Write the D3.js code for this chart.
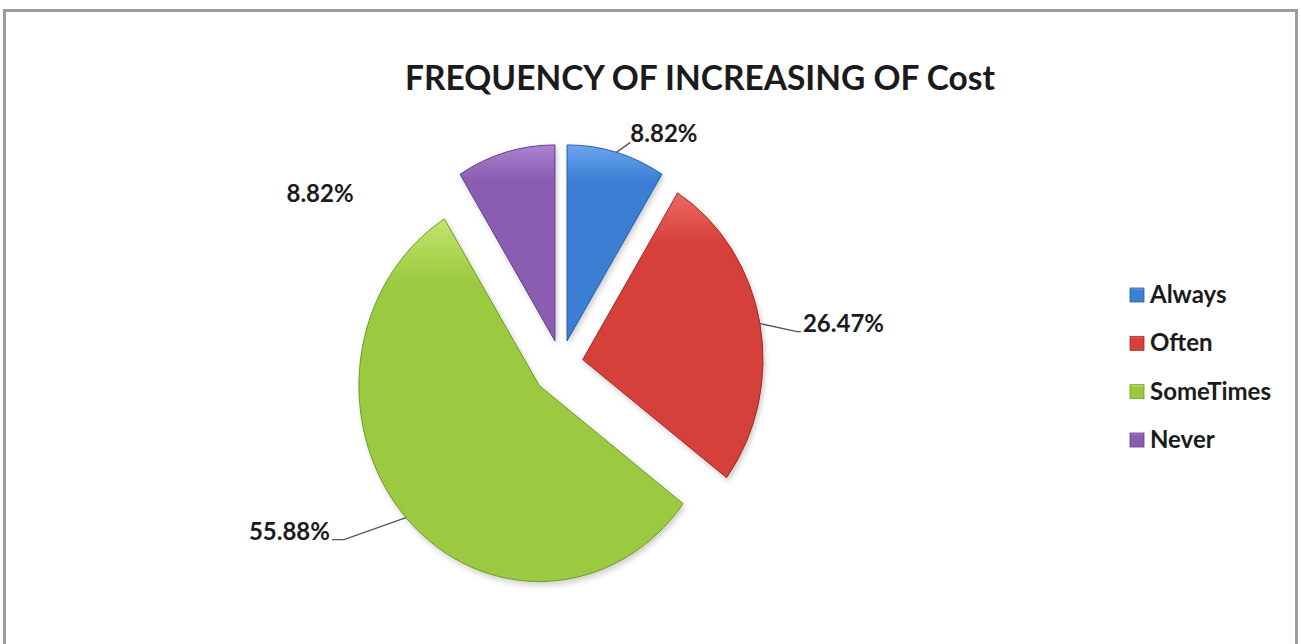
<!DOCTYPE html>
<html>
<head>
<meta charset="utf-8">
<script src="https://cdn.jsdelivr.net/npm/d3@7"></script>
<style>
    body { margin: 0; background: #fff; }
    text { font-family: Lato, "Open Sans", sans-serif; font-weight: bold; fill: #1b1b1b; }
</style>
</head>
<body>
<svg id="chart"></svg>
<script>
// data
const categories = ["Always", "Often", "SomeTimes", "Never"];
const shares = [8.82, 26.47, 55.88, 8.82];
const labels = ["8.82%", "26.47%", "55.88%", "8.82%"];
const title = "FREQUENCY OF INCREASING OF Cost";

// styling
const colors = ["#3b7fd4", "#d63f3a", "#9bc940", "#8a5cb2"];
const lightColors = ["#6aa6ee", "#ee6a62", "#c1e56c", "#ab84d0"];
const darkColors = ["#2a5d9e", "#9c2a26", "#6e9a2a", "#5f3c85"];
const explode = [24, 24, 32, 24];

// label leader: offset from the point on the arc to where the text starts
const labelOffsets = [[14, -10], [43, 8], [-76, 22], [-152, 50]];
const labelAnchor = ["start", "start", "end", "end"];
const hasLeader = [true, true, true, false];

const WIDTH = 1301, HEIGHT = 644;
const CX = 561, CY = 364, R = 196, SX = 0.92;

const svg = d3.select("#chart")
    .attr("width", WIDTH)
    .attr("height", HEIGHT);

// frame
svg.append("rect")
    .attr("x", 4.5).attr("y", 10.5)
    .attr("width", 1292).attr("height", 700)
    .attr("fill", "#fff")
    .attr("stroke", "#9c9c9c")
    .attr("stroke-width", 3);

const defs = svg.append("defs");
const shadow = defs.append("filter").attr("id", "shadow")
    .attr("x", "-20%").attr("y", "-20%").attr("width", "140%").attr("height", "140%");
shadow.append("feDropShadow")
    .attr("dx", 2).attr("dy", 3).attr("stdDeviation", 3)
    .attr("flood-color", "#000").attr("flood-opacity", 0.2);

categories.forEach((c, i) => {
    let g = defs.append("linearGradient").attr("id", `grad${i}`)
        .attr("x1", 0).attr("y1", 0).attr("x2", 0).attr("y2", 1);
    g.append("stop").attr("offset", "0%").attr("stop-color", lightColors[i]);
    g.append("stop").attr("offset", "18%").attr("stop-color", colors[i]);
    g.append("stop").attr("offset", "100%").attr("stop-color", colors[i]);
});

// title, sized to the reference width
let titleText = svg.append("text")
    .attr("x", 700).attr("y", 90)
    .attr("text-anchor", "middle")
    .attr("font-size", 36)
    .text(title);
let tw = titleText.node().getComputedTextLength();
titleText.attr("font-size", 36 * 590 / tw);

// pie
const pie = d3.pie().sort(null).value(d => d)(shares);
const arc = d3.arc().innerRadius(0).outerRadius(R);

const pieGroup = svg.append("g")
    .attr("transform", `translate(${CX},${CY}) scale(${SX},1)`);

pie.forEach((d, i) => {
    let mid = (d.startAngle + d.endAngle) / 2;
    pieGroup.append("path")
        .attr("d", arc(d))
        .attr("transform", `translate(${explode[i] * Math.sin(mid)},${-explode[i] * Math.cos(mid)})`)
        .attr("fill", `url(#grad${i})`)
        .attr("stroke", darkColors[i])
        .attr("stroke-width", 1)
        .attr("vector-effect", "non-scaling-stroke")
        .attr("filter", "url(#shadow)");
});

// data labels
pie.forEach((d, i) => {
    let mid = (d.startAngle + d.endAngle) / 2;
    let rr = R + explode[i];
    let px = CX + rr * Math.sin(mid) * SX;
    let py = CY - rr * Math.cos(mid);
    let tx = px + labelOffsets[i][0];
    let ty = py + labelOffsets[i][1];

    if (hasLeader[i]) {
        let pts = i === 1
            ? [[px, py], [tx - 6, ty], [tx - 2, ty]]
            : i === 2
                ? [[px, py], [tx + 14, ty], [tx + 2, ty]]
                : [[px, py], [tx, ty]];
        svg.append("path")
            .attr("d", d3.line()(pts))
            .attr("fill", "none")
            .attr("stroke", "#555")
            .attr("stroke-width", 1.3);
    }

    svg.append("text")
        .attr("x", tx)
        .attr("y", ty)
        .attr("text-anchor", labelAnchor[i])
        .attr("font-size", 24)
        .text(labels[i]);
});

// legend
const legendY = d3.scalePoint()
    .domain(categories)
    .range([295, 440]);

const legend = svg.append("g").attr("transform", "translate(1130,0)");
categories.forEach((c, i) => {
    let y = legendY(c);
    legend.append("rect")
        .attr("x", 0).attr("y", y - 7)
        .attr("width", 14).attr("height", 14)
        .attr("fill", `url(#grad${i})`)
        .attr("stroke", darkColors[i])
        .attr("stroke-width", 0.8);
    legend.append("text")
        .attr("x", 20).attr("y", y + 8)
        .attr("font-size", 24)
        .text(c);
});
</script>
</body>
</html>
